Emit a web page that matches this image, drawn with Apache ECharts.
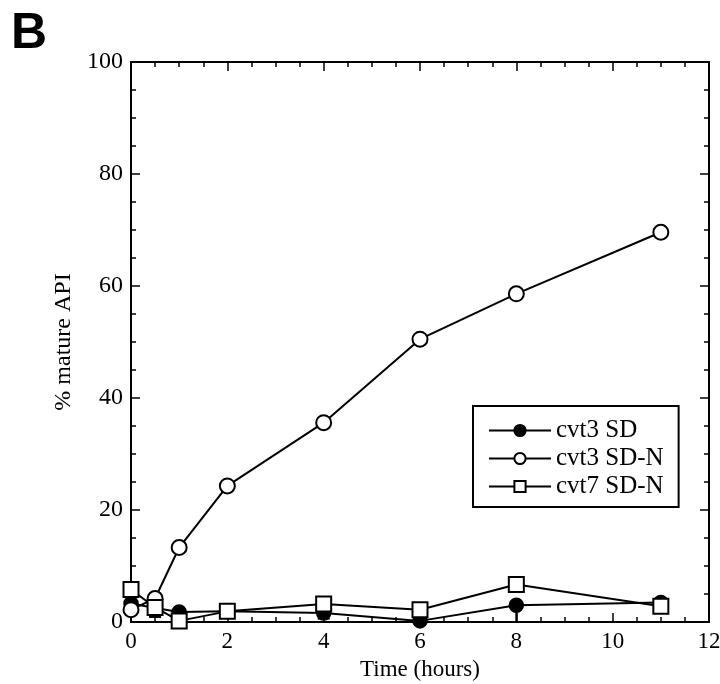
<!DOCTYPE html>
<html><head><meta charset="utf-8">
<script src="https://cdn.jsdelivr.net/npm/echarts@6/dist/echarts.min.js"></script>
<style>html,body{margin:0;padding:0;background:#fff}#c{width:720px;height:684px}</style>
</head><body><div id="c"></div>
<script>
const times = [0, 0.5, 1, 2, 4, 6, 8, 11];
const cvt3SD = [3.3, 2.5, 1.8, 1.9, 1.6, 0.2, 3.0, 3.5];
const cvt3SDerr = [0, 1.6, 0, 0, 1.0, 0, 3.0, 0];
const cvt3SDN = [2.2, 4.2, 13.3, 24.3, 35.6, 50.5, 58.6, 69.6];
const cvt7SDN = [5.8, 2.6, 0.2, 1.9, 3.2, 2.2, 6.7, 2.8];
const seriesNames = ['cvt3 SD', 'cvt3 SD-N', 'cvt7 SD-N'];
const xTicks = [0, 2, 4, 6, 8, 10, 12];
const yTicks = [0, 20, 40, 60, 80, 100];

const font = 'Liberation Serif';
const pairs = a => times.map((t, i) => [t, a[i]]);
const chart = echarts.init(document.getElementById('c'));
function axisCommon() {
  return {
    axisLine: {show: true, onZero: false, lineStyle: {color: '#000', width: 2}},
    axisTick: {show: true, inside: true, length: 9, lineStyle: {color: '#000', width: 1.5}},
    minorTick: {show: true, splitNumber: 4, length: 5, lineStyle: {color: '#000', width: 1.5}},
    splitLine: {show: false}
  };
}
chart.setOption({
  animation: false,
  backgroundColor: '#fff',
  title: {text: 'B', left: 6, top: 4, textStyle: {fontFamily: 'Liberation Sans', fontWeight: 'bold', fontSize: 50, color: '#000'}},
  grid: {left: 131, right: 11, top: 62, bottom: 62, outerBoundsMode: 'none', containLabel: false},
  legend: {
    data: seriesNames, orient: 'vertical', left: 473, top: 406,
    borderColor: '#000', borderWidth: 2, padding: [12, 15, 8, 15], itemGap: 3,
    itemWidth: 62, itemHeight: 14,
    textStyle: {fontFamily: font, fontSize: 25, color: '#000'}
  },
  xAxis: [
    Object.assign({type: 'value', min: 0, max: 12, interval: 2, position: 'bottom',
      name: 'Time (hours)', nameLocation: 'middle', nameGap: 36,
      nameTextStyle: {fontFamily: font, fontSize: 23, color: '#000'},
      axisLabel: {fontFamily: font, fontSize: 23, color: '#000', margin: 8,
        formatter: v => xTicks.includes(v) ? String(v) : ''}}, axisCommon()),
    Object.assign({type: 'value', min: 0, max: 12, interval: 2, position: 'top', axisLabel: {show: false}}, axisCommon())
  ],
  yAxis: [
    Object.assign({type: 'value', min: 0, max: 100, interval: 20, position: 'left',
      name: '% mature API', nameLocation: 'middle', nameGap: 54,
      nameTextStyle: {fontFamily: font, fontSize: 24, color: '#000'},
      axisLabel: {fontFamily: font, fontSize: 24, color: '#000', margin: 8,
        formatter: v => yTicks.includes(v) ? String(v) : ''}}, axisCommon()),
    Object.assign({type: 'value', min: 0, max: 100, interval: 20, position: 'right', axisLabel: {show: false}}, axisCommon())
  ],
  series: [
    {name: seriesNames[0], type: 'line', data: pairs(cvt3SD), symbol: 'circle', symbolSize: 14,
      lineStyle: {color: '#000', width: 2}, itemStyle: {color: '#000', borderColor: '#000', borderWidth: 1.5}, z: 3},
    {name: seriesNames[1], type: 'line', data: pairs(cvt3SDN), symbol: 'circle', symbolSize: 15,
      lineStyle: {color: '#000', width: 2}, itemStyle: {color: '#fff', borderColor: '#000', borderWidth: 2}, z: 4},
    {name: seriesNames[2], type: 'line', data: pairs(cvt7SDN), symbol: 'rect', symbolSize: 15,
      lineStyle: {color: '#000', width: 2}, itemStyle: {color: '#fff', borderColor: '#000', borderWidth: 2}, z: 5},
    {type: 'custom', z: 2, data: times.map((t, i) => [t, cvt3SD[i], cvt3SD[i] - cvt3SDerr[i]]).filter((d, i) => cvt3SDerr[i] > 0),
      renderItem: (params, api) => {
        const top = api.coord([api.value(0), api.value(1)]);
        const bot = api.coord([api.value(0), api.value(2)]);
        return {type: 'group', children: [
          {type: 'line', shape: {x1: top[0], y1: top[1], x2: bot[0], y2: bot[1]}, style: {stroke: '#000', lineWidth: 2}},
          {type: 'line', shape: {x1: bot[0] - 6, y1: bot[1], x2: bot[0] + 6, y2: bot[1]}, style: {stroke: '#000', lineWidth: 2}}
        ]};
      }}
  ]
});
</script></body></html>
